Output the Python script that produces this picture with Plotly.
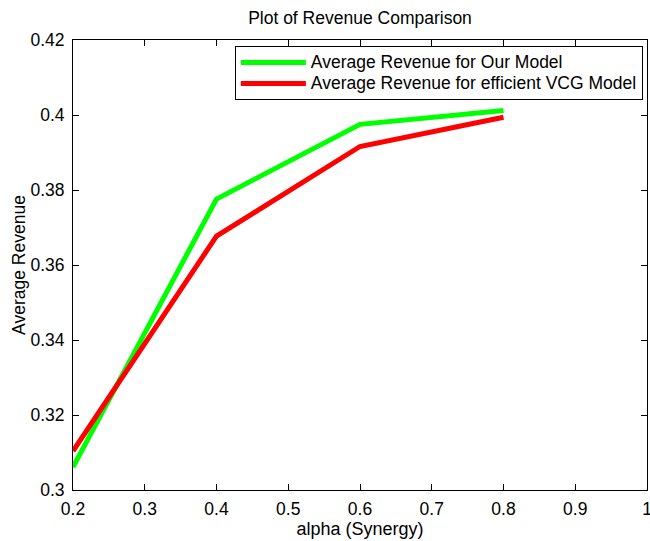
import plotly.graph_objects as go

alpha = [0.2, 0.4, 0.6, 0.8]
rev_our = [0.3061, 0.3776, 0.3975, 0.4012]
rev_vcg = [0.3104, 0.3677, 0.3916, 0.3994]
names = ["Average Revenue for Our Model", "Average Revenue for efficient VCG Model"]

font = "Liberation Sans, Arial, sans-serif"
FS = 17.5


def legend_name(s):
    return f'<span style="font-size:{FS}px">{s}</span>'


fig = go.Figure()
fig.add_trace(go.Scatter(x=alpha, y=rev_our, mode="lines", name=legend_name(names[0]),
                         line=dict(color="#00ff00", width=5)))
fig.add_trace(go.Scatter(x=alpha, y=rev_vcg, mode="lines", name=legend_name(names[1]),
                         line=dict(color="#ff0000", width=5)))

axis_common = dict(showline=True, linecolor="black", linewidth=1, mirror="ticks",
                   ticks="inside", ticklen=6, tickcolor="black", showgrid=False,
                   zeroline=False, automargin=False, ticklabeloverflow="allow",
                   tickfont=dict(size=FS, color="black", family=font))

fig.update_layout(
    width=650, height=541,
    margin=dict(l=73, r=3, t=40, b=51, autoexpand=False),
    paper_bgcolor="white", plot_bgcolor="white",
    title=dict(text="Plot of Revenue Comparison", x=0.5, xref="paper", xanchor="center",
               y=1 - 18 / 541, yref="container", yanchor="middle",
               font=dict(size=FS, color="black", family=font)),
    xaxis=dict(range=[0.2, 1], dtick=0.1, tick0=0.2, ticklabelstandoff=3,
               title=dict(text="alpha (Synergy)", standoff=1,
                          font=dict(size=18, color="black", family=font)),
               **axis_common),
    yaxis=dict(range=[0.3, 0.42], dtick=0.02, tick0=0.3, ticklabelstandoff=4,
               title=dict(text="Average Revenue", standoff=0,
                          font=dict(size=FS, color="black", family=font)),
               **axis_common),
    legend=dict(x=0.282, y=0.9867, xanchor="left", yanchor="top",
                bgcolor="white", bordercolor="black", borderwidth=1,
                font=dict(size=13.8, color="black", family=font),
                tracegroupgap=0, itemwidth=65),
    showlegend=True,
)

fig.write_html("out.html", post_script="document.body.style.margin='0';",
               config={"displayModeBar": False})
